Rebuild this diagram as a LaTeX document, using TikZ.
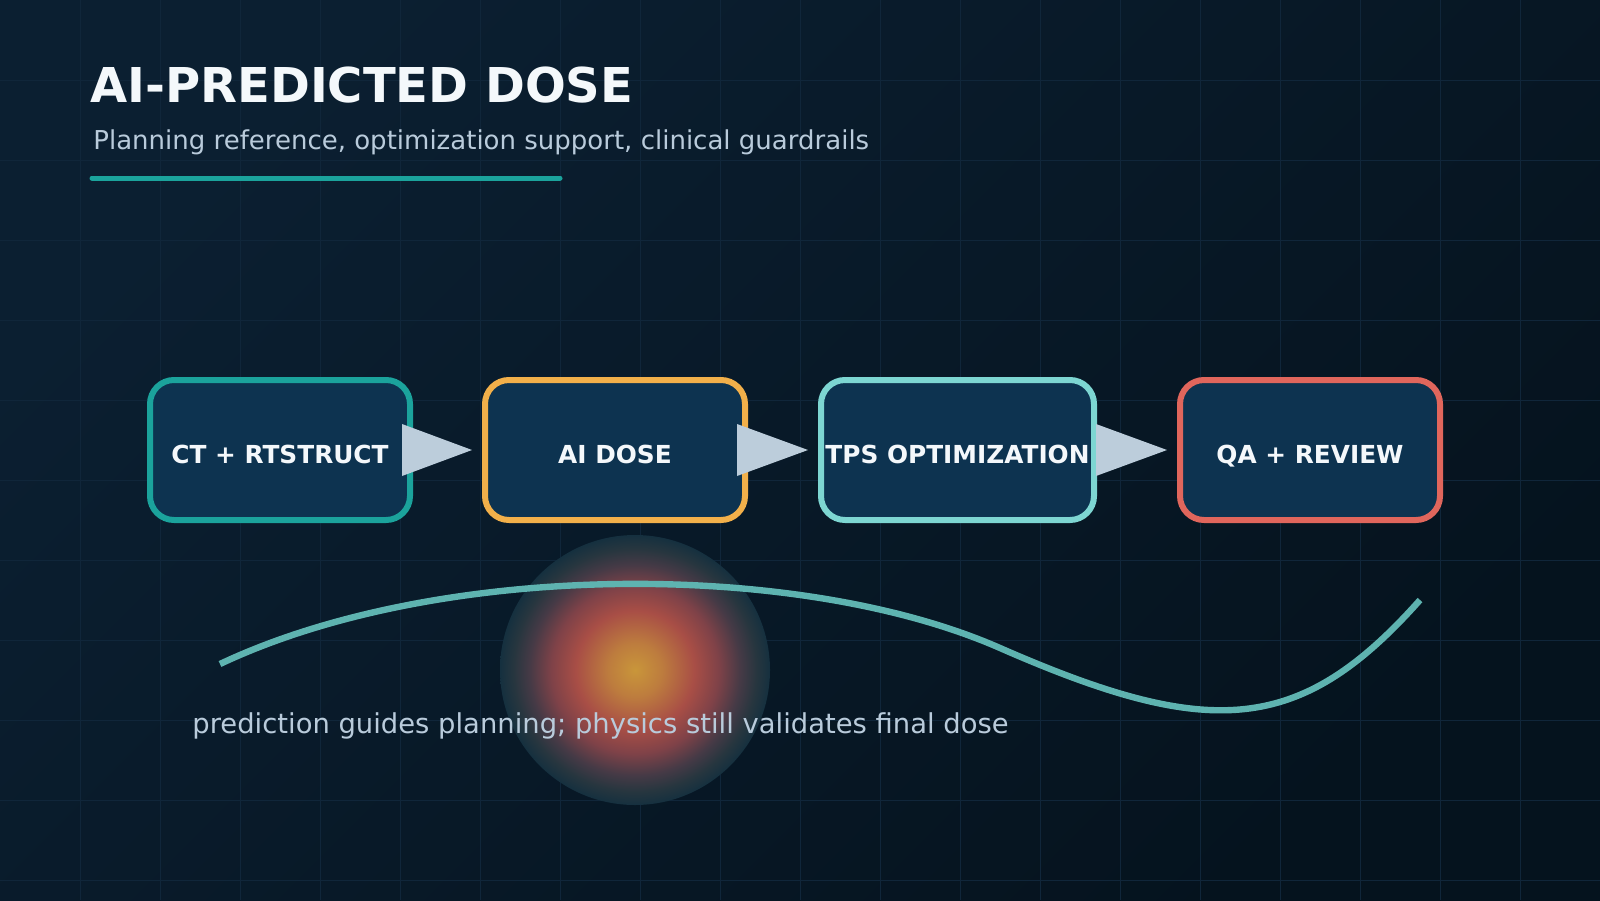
\documentclass[tikz,border=0pt]{standalone}
\usepackage{fontspec}
\setmainfont{DejaVu Sans}
\usepackage{xcolor}
\usepackage{tikz}
\usetikzlibrary{calc}

\definecolor{bgtop}{HTML}{0B1F31}
\definecolor{bgbot}{HTML}{05131E}
\definecolor{gridcol}{HTML}{10263A}
\definecolor{boxfill}{HTML}{0D3350}
\definecolor{tealline}{HTML}{1BA39C}
\definecolor{ambline}{HTML}{F2B04A}
\definecolor{mintline}{HTML}{7DD6D2}
\definecolor{coralline}{HTML}{E0665C}
\definecolor{trifill}{HTML}{BCCDDB}
\definecolor{headwhite}{HTML}{F4F8FB}
\definecolor{subgrey}{HTML}{B9CBDB}
\definecolor{curvecol}{HTML}{5EB3B0}
\definecolor{glowcore}{HTML}{C9963A}
\definecolor{glowamber}{HTML}{BD7C3E}
\definecolor{glowred}{HTML}{A84E46}
\definecolor{glowdim}{HTML}{7F4248}
\definecolor{glowfade}{HTML}{463A46}
\definecolor{glowrim}{HTML}{27363F}
\definecolor{glowedge}{HTML}{15303F}

\pgfdeclareradialshading{doseglow}{\pgfpointorigin}{color(0bp)=(glowcore); color(5bp)=(glowamber); color(11bp)=(glowred); color(15.5bp)=(glowdim); color(19.5bp)=(glowfade); color(22.5bp)=(glowrim); color(25bp)=(glowedge); color(50bp)=(glowedge)}

\begin{document}
\begin{tikzpicture}[x=0.5pt, y=-0.5pt,
    gridline/.style={draw=gridcol, line width=0.5pt},
    stage/.style={draw, line width=3pt, fill=boxfill, rounded corners=12pt,
        minimum width=130pt, minimum height=70pt, inner sep=0pt,
        text=headwhite, font=\fontsize{12.4}{14}\selectfont\bfseries,
        text height=13pt, text depth=0pt},
    flowtri/.style={fill=trifill}]

    % Canvas
    \useasboundingbox (0,0) rectangle (1600,900);
    \shade[shading=axis, top color=bgtop, bottom color=bgbot, shading angle=45] (0,0) rectangle (1600,900);

    % Grid
    \foreach \gx in {80,160,...,1520} \draw[gridline] (\gx,0) -- (\gx,900);
    \foreach \gy in {80,160,...,880} \draw[gridline] (0,\gy) -- (1600,\gy);

    % Heading
    \node[anchor=base west, inner sep=0pt, text=headwhite, font=\fontsize{24}{28}\selectfont\bfseries] (title) at (90,102) {AI-PREDICTED DOSE};
    \node[anchor=base west, inner sep=0pt, text=subgrey, font=\fontsize{13}{16}\selectfont] (subtitle) at (93,149) {Planning reference, optimization support, clinical guardrails};
    \draw[tealline, line width=2.5pt, line cap=round] (92,178) -- (560,178);

    % Dose glow and curve
    \shade[shading=doseglow] (635,670) circle (135);
    \draw[curvecol, line width=3.2pt] (220,664) .. controls (440,560) and (800,560) .. (1000,648)
        .. controls (1210,740) and (1300,735) .. (1420,600);
    \node[anchor=base west, inner sep=0pt, text=subgrey, font=\fontsize{13.7}{16}\selectfont] (note) at (192,733) {prediction guides planning; physics still validates final dose};

    % Stages
    \node[stage, draw=tealline] (ct) at (280,450) {CT + RTSTRUCT};
    \node[stage, draw=ambline] (ai) at (615,450) {AI DOSE};
    \node[stage, draw=mintline, minimum width=136.5pt] (tps) at (957.5,450) {TPS OPTIMIZATION};
    \node[stage, draw=coralline] (qa) at (1310,450) {QA + REVIEW};

    % Flow triangles
    \foreach \a/\b/\s in {ct/ai/11, ai/tps/11, tps/qa/1}
        \fill[flowtri] ($(\a.east)+(-\s,-26)$) -- ($(\b.west)+(-10,0)$) -- ($(\a.east)+(-\s,26)$) -- cycle;

\end{tikzpicture}
\end{document}
